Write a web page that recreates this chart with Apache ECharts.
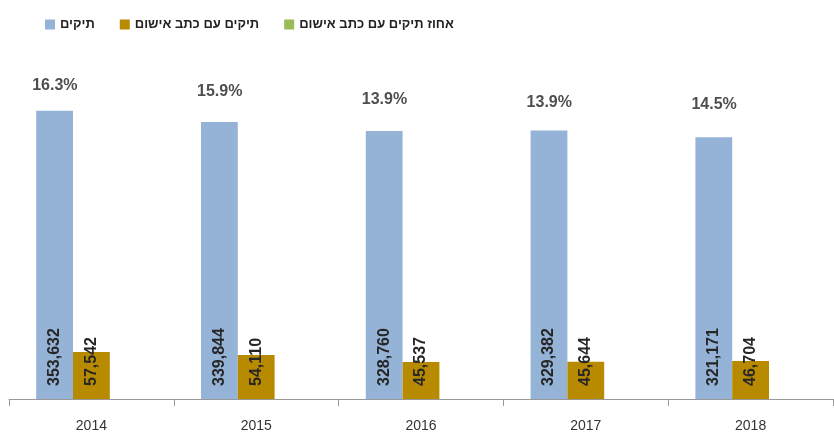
<!DOCTYPE html>
<html><head><meta charset="utf-8">
<script src="https://cdn.jsdelivr.net/npm/echarts@6/dist/echarts.min.js"></script>
<style>html,body{margin:0;padding:0;background:#fff}#c{width:834px;height:433px}</style>
</head><body><div id="c"></div>
<script>
const years = ['2014','2015','2016','2017','2018'];
const cases = [353632, 339844, 328760, 329382, 321171];
const indicted = [57542, 54110, 45537, 45644, 46704];
const pctIndicted = [16.3, 15.9, 13.9, 13.9, 14.5];
const names = ['תיקים', 'תיקים עם כתב אישום', 'אחוז תיקים עם כתב אישום'];
// label vertical offsets (styling only)
const pctLabelLift = [25, 30, 31, 28, 33];

const font = "'Liberation Sans','DejaVu Sans',sans-serif";
const fmt = v => v.toLocaleString('en-US');
const valueLabel = {
  show: true, position: 'insideBottom', distance: 13, rotate: 90,
  align: 'left', verticalAlign: 'middle',
  fontFamily: font, fontSize: 16, fontWeight: 'bold', color: '#262626',
  formatter: p => fmt(p.value)
};
const chart = echarts.init(document.getElementById('c'), null, {renderer: 'canvas'});
chart.setOption({
  animation: false,
  legend: {
    left: 40, top: 13, itemWidth: 10, itemHeight: 10, itemGap: 25, icon: 'rect',
    data: names,
    textStyle: {fontFamily: font, fontSize: 13, fontWeight: 'bold', color: '#222'}
  },
  grid: {left: 9, right: 1, top: 73, bottom: 34},
  xAxis: {
    type: 'category', data: years,
    axisLine: {lineStyle: {color: '#999'}},
    axisTick: {show: true, length: 7, lineStyle: {color: '#999'}},
    axisLabel: {margin: 20, fontFamily: font, fontSize: 14, color: '#333'}
  },
  yAxis: {type: 'value', min: 0, max: 400000, show: false, splitLine: {show: false}},
  series: [
    {name: names[0], type: 'bar', data: cases, barGap: 0, barCategoryGap: '33%',
     itemStyle: {color: '#95B3D7'}, label: valueLabel},
    {name: names[1], type: 'bar', data: indicted,
     itemStyle: {color: '#B88A00'}, label: valueLabel},
    {name: names[2], type: 'bar', data: years.map(() => null),
     itemStyle: {color: '#9BBB59'}},
    {name: 'pct', type: 'scatter', symbolSize: 0, silent: true,
     data: cases.map((v, i) => ({
       value: v,
       label: {offset: [-36.5, -pctLabelLift[i]]}
     })),
     label: {show: true, position: 'inside',
       fontFamily: font, fontSize: 16, fontWeight: 'bold', color: '#222',
       formatter: p => pctIndicted[p.dataIndex].toFixed(1) + '%'}}
  ]
});
</script></body></html>
